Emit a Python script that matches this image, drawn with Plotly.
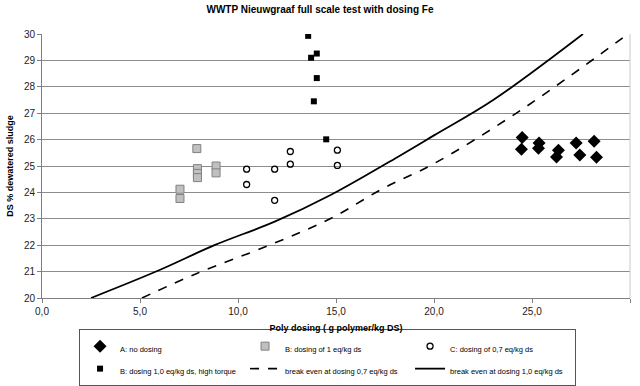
import plotly.graph_objects as go

# A: no dosing
a_x = [24.50, 24.46, 25.36, 25.33, 26.35, 26.25, 27.25, 27.44, 28.17, 28.29]
a_y = [26.08, 25.63, 25.87, 25.67, 25.60, 25.34, 25.87, 25.42, 25.94, 25.33]
# B: dosing of 1 eq/kg ds
b_x = [7.04, 7.04, 7.90, 7.93, 7.93, 7.93, 8.88, 8.88]
b_y = [24.12, 23.77, 25.66, 24.90, 24.72, 24.56, 25.00, 24.74]
# C: dosing of 0,7 eq/kg ds
c_x = [10.44, 10.44, 11.87, 11.87, 12.67, 12.67, 15.07, 15.07]
c_y = [24.88, 24.30, 24.88, 23.70, 25.55, 25.07, 25.60, 25.02]
# B: dosing 1,0 eq/kg ds, high torque
d_x = [13.58, 13.73, 14.02, 14.02, 13.87, 14.50]
d_y = [29.93, 29.10, 29.26, 28.33, 27.45, 26.01]
# break even at dosing 0,7 eq/kg ds
e07_x = [5.1, 7.9, 11.6, 14.7, 17.4, 20.0, 24.4, 29.9]
e07_y = [20.0, 20.93, 22.0, 23.0, 24.15, 25.09, 27.1, 30.0]
# break even at dosing 1,0 eq/kg ds
e10_x = [2.5, 6.0, 8.8, 11.9, 14.7, 18.3, 20.0, 23.0, 27.6]
e10_y = [20.0, 21.06, 22.0, 22.9, 23.89, 25.41, 26.16, 27.49, 30.0]

series_names = ["A: no dosing", "B: dosing of 1 eq/kg ds", "C: dosing of 0,7 eq/kg ds",
                "B: dosing 1,0 eq/kg ds, high torque", "break even at dosing 0,7 eq/kg ds",
                "break even at dosing 1,0 eq/kg ds"]

x_ticks = [0, 5, 10, 15, 20, 25, 30]
x_tick_labels = ["0,0", "5,0", "10,0", "15,0", "20,0", "25,0", "30,0"]
y_ticks = list(range(20, 31))

font_family = "Liberation Sans, Arial"


def lg(name):
    return "<span style='font-size:7.5px'>" + name + "</span>"


fig = go.Figure()
fig.add_trace(go.Scatter(x=a_x, y=a_y, mode="markers", name=lg(series_names[0]),
                         marker=dict(symbol="diamond", size=10, color="black")))
fig.add_trace(go.Scatter(x=b_x, y=b_y, mode="markers", name=lg(series_names[1]),
                         marker=dict(symbol="square", size=8, color="#c0c0c0",
                                     line=dict(color="#808080", width=1))))
fig.add_trace(go.Scatter(x=c_x, y=c_y, mode="markers", name=lg(series_names[2]),
                         marker=dict(symbol="circle-open", size=6, color="black",
                                     line=dict(width=1.3))))
fig.add_trace(go.Scatter(x=d_x, y=d_y, mode="markers", name=lg(series_names[3]),
                         marker=dict(symbol="square", size=6, color="black")))
fig.add_trace(go.Scatter(x=e07_x, y=e07_y, mode="lines", name=lg(series_names[4]),
                         line=dict(color="black", width=1.6, dash="dash", shape="spline")))
fig.add_trace(go.Scatter(x=e10_x, y=e10_y, mode="lines", name=lg(series_names[5]),
                         line=dict(color="black", width=1.8, shape="spline")))

fig.update_layout(
    width=640, height=386,
    margin=dict(l=42, r=10, t=34, b=88, autoexpand=False),
    paper_bgcolor="white", plot_bgcolor="white",
    font=dict(family=font_family, size=10, color="#222"),
    title=dict(text="<b>WWTP Nieuwgraaf full scale test with dosing Fe</b>",
               x=0.5, xanchor="center", y=0.985, yanchor="top",
               font=dict(size=10, color="black")),
    showlegend=True,
    legend=dict(orientation="h", x=0.063, xanchor="left", y=-0.117, yanchor="top",
                bordercolor="#555", borderwidth=1, bgcolor="white",
                font=dict(size=15, color="black"),
                entrywidth=120, entrywidthmode="pixels", itemwidth=30,
                tracegroupgap=0),
)
fig.update_xaxes(range=[0, 30], tickvals=x_ticks, ticktext=x_tick_labels,
                 showgrid=False, showline=True, linecolor="#808080", linewidth=1,
                 ticks="outside", ticklen=4, tickcolor="#808080", mirror=False,
                 zeroline=False,
                 title=dict(text="<b>Poly dosing ( g polymer/kg DS)</b>", standoff=8,
                            font=dict(size=9, color="black")))
fig.update_yaxes(range=[20, 30], tickvals=y_ticks, showgrid=True, gridcolor="#8c8c8c",
                 gridwidth=1, showline=True, linecolor="#808080", linewidth=1,
                 ticks="outside", ticklen=4, tickcolor="#808080", zeroline=False,
                 title=dict(text="<b>DS % dewatered sludge</b>", standoff=8,
                            font=dict(size=9, color="black")))
# right border of plot area
fig.add_shape(type="line", xref="paper", yref="paper", x0=1, x1=1, y0=0, y1=1,
              line=dict(color="#c8c8c8", width=1))

fig.write_html("out.html", config={"displayModeBar": False},
               post_script="document.body.style.margin='0px';")
